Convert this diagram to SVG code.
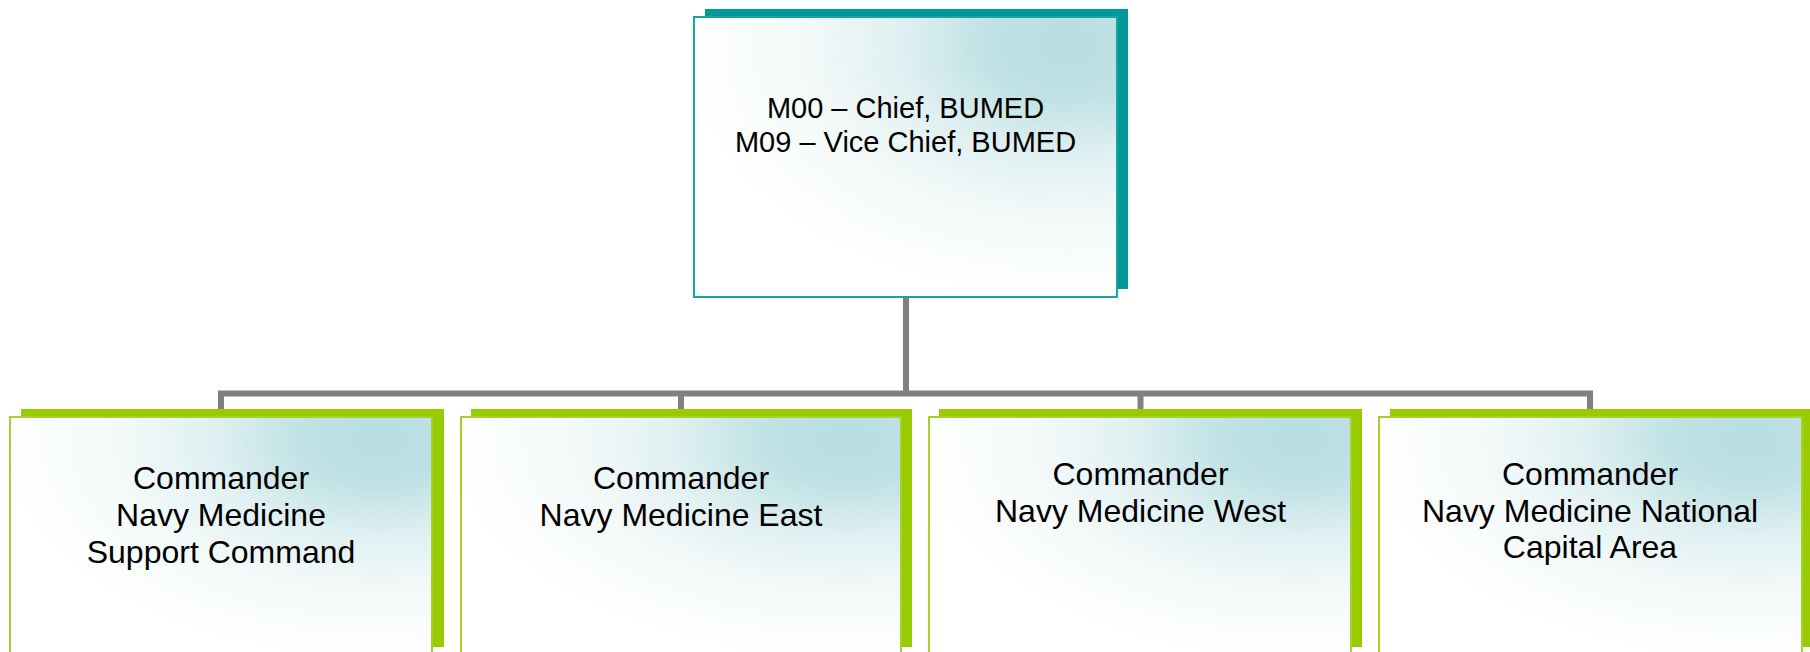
<svg xmlns="http://www.w3.org/2000/svg" width="1810" height="652" viewBox="0 0 1810 652">
<defs>
<radialGradient id="fillG" cx="0.88" cy="0.1" r="1" fx="0.88" fy="0.1">
<stop offset="0" stop-color="#b8dee2"/>
<stop offset="0.18" stop-color="#bee1e4"/>
<stop offset="0.4" stop-color="#e0f0f1"/>
<stop offset="0.62" stop-color="#f3f9f9"/>
<stop offset="0.85" stop-color="#fdfefe"/>
<stop offset="1" stop-color="#ffffff"/>
</radialGradient>
</defs>
<style>
.conn{stroke:#808080;stroke-width:6;fill:none}
.tshadow{fill:#009999}
.tbox{fill:url(#fillG);stroke:#1aa3a3;stroke-width:2}
.gshadow{fill:#99cc00}
.gbox{fill:url(#fillG);stroke:#a6d12a;stroke-width:2}
text{font-family:"Liberation Sans",Arial,sans-serif;fill:#000;text-anchor:middle}
.t1{font-size:29px}
.t2{font-size:32px}
</style>
<rect width="1810" height="652" fill="#ffffff"/>
<g id="connectors">
<line class="conn" x1="906" y1="297" x2="906" y2="394"/>
<line class="conn" x1="218" y1="393.5" x2="1593" y2="393.5"/>
<line class="conn" x1="221" y1="391" x2="221" y2="412"/>
<line class="conn" x1="681" y1="391" x2="681" y2="412"/>
<line class="conn" x1="1140.5" y1="391" x2="1140.5" y2="412"/>
<line class="conn" x1="1590" y1="391" x2="1590" y2="412"/>
</g>
<g id="node-m00">
<rect class="tshadow" x="705" y="9" width="423" height="280"/>
<rect class="tbox" x="694" y="17" width="423" height="280"/>
<text class="t1" x="905.5" y="118">M00 – Chief, BUMED</text>
<text class="t1" x="905.5" y="152">M09 – Vice Chief, BUMED</text>
</g>
<g id="node-support">
<rect class="gshadow" x="21" y="409" width="423" height="238"/>
<rect class="gbox" x="10" y="417" width="422" height="240"/>
<text class="t2" x="221" y="489">Commander</text>
<text class="t2" x="221" y="526">Navy Medicine</text>
<text class="t2" x="221" y="563">Support Command</text>
</g>
<g id="node-east">
<rect class="gshadow" x="471" y="409" width="441" height="238"/>
<rect class="gbox" x="461" y="417" width="440" height="240"/>
<text class="t2" x="681" y="489">Commander</text>
<text class="t2" x="681" y="526">Navy Medicine East</text>
</g>
<g id="node-west">
<rect class="gshadow" x="939" y="409" width="423" height="238"/>
<rect class="gbox" x="929" y="417" width="422" height="240"/>
<text class="t2" x="1140.5" y="485">Commander</text>
<text class="t2" x="1140.5" y="522">Navy Medicine West</text>
</g>
<g id="node-nca">
<rect class="gshadow" x="1390" y="409" width="424" height="238"/>
<rect class="gbox" x="1379" y="417" width="423" height="240"/>
<text class="t2" x="1590" y="485">Commander</text>
<text class="t2" x="1590" y="522">Navy Medicine National</text>
<text class="t2" x="1590" y="558">Capital Area</text>
</g>
</svg>
